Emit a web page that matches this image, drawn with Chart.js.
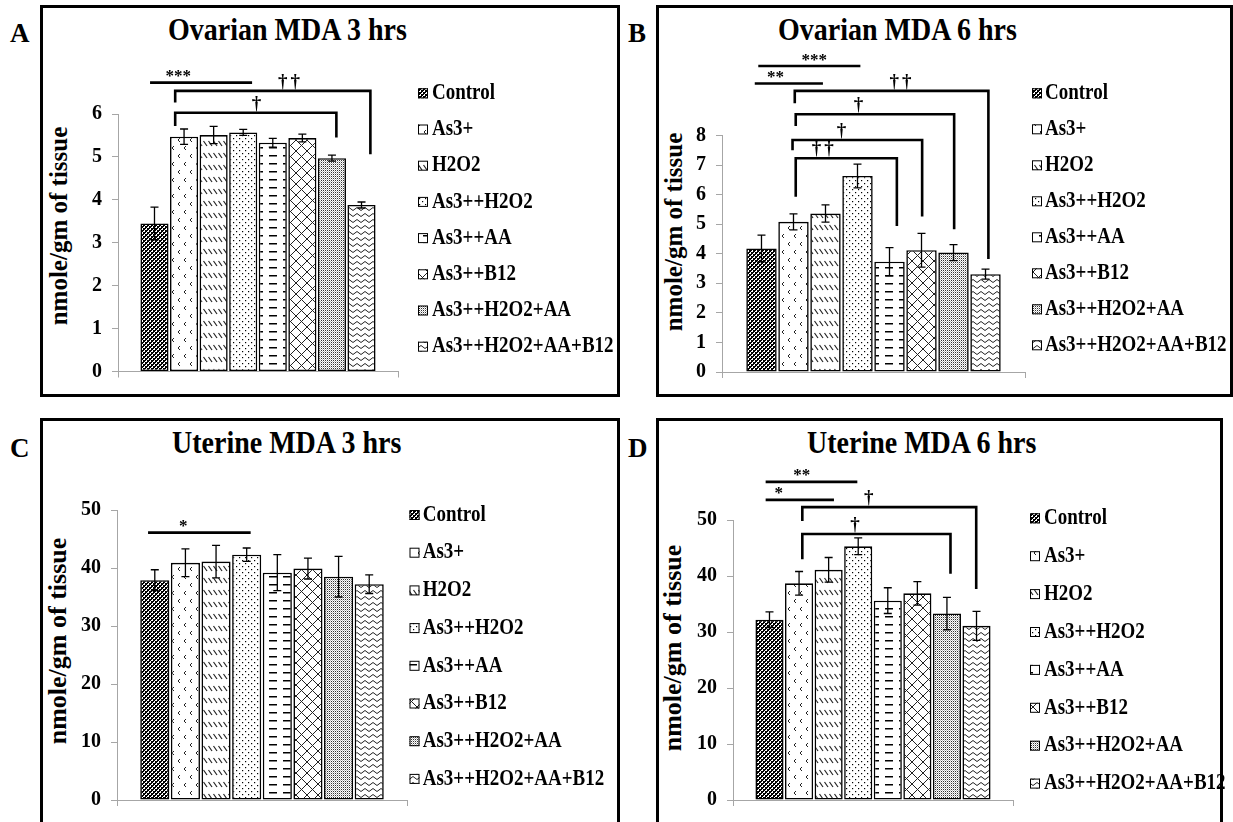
<!DOCTYPE html>
<html>
<head>
<meta charset="utf-8">
<script src="https://cdn.jsdelivr.net/npm/chart.js@4.4.1/dist/chart.umd.min.js"></script>
<style>
    body { margin: 0; background: #fff; width: 1233px; height: 822px; overflow: hidden; position: relative;
           font-family: 'Liberation Serif', 'Times New Roman', serif; color: #000; }
    .box { position: absolute; border: 3px solid #000; box-sizing: border-box; }
    .wrap { position: absolute; }
    .letter { position: absolute; font-weight: bold; font-size: 27px; line-height: 1; }
    .title { position: absolute; font-weight: bold; font-size: 28px; line-height: 1; white-space: nowrap;
             transform-origin: 0 23px; transform: scaleY(1.12); }
    .ytitle { position: absolute; font-weight: bold; font-size: 25px; line-height: 1; white-space: nowrap;
              transform: translate(-50%, -50%) rotate(-90deg); }
</style>
</head>
<body>
<div class="box" style="left:40px;top:5px;width:580px;height:392px"></div>
<div class="box" style="left:656px;top:5px;width:577px;height:392px"></div>
<div class="box" style="left:40px;top:418px;width:580px;height:420px"></div>
<div class="box" style="left:656px;top:418px;width:567px;height:420px"></div>

<div class="letter" style="left:10px;top:20px">A</div>
<div class="letter" style="left:628px;top:20px">B</div>
<div class="letter" style="left:10px;top:435px">C</div>
<div class="letter" style="left:628px;top:435px">D</div>

<div class="title" style="left:168px;top:17px">Ovarian MDA 3 hrs</div>
<div class="title" style="left:778px;top:17px">Ovarian MDA 6 hrs</div>
<div class="title" style="left:172px;top:430px">Uterine MDA 3 hrs</div>
<div class="title" style="left:807px;top:430px">Uterine MDA 6 hrs</div>

<div class="ytitle" style="left:58px;top:226px">nmole/gm of tissue</div>
<div class="ytitle" style="left:673px;top:232px">nmole/gm of tissue</div>
<div class="ytitle" style="left:58px;top:641px;font-size:26px">nmole/gm of tissue</div>
<div class="ytitle" style="left:673px;top:648px;font-size:26px">nmole/gm of tissue</div>

<div class="wrap" style="left:43px;top:8px;width:574px;height:386px"><canvas id="chartA"></canvas></div>
<div class="wrap" style="left:659px;top:8px;width:571px;height:386px"><canvas id="chartB"></canvas></div>
<div class="wrap" style="left:43px;top:421px;width:574px;height:401px"><canvas id="chartC"></canvas></div>
<div class="wrap" style="left:659px;top:421px;width:572px;height:401px"><canvas id="chartD"></canvas></div>

<script>
const groups = ['Control', 'As3+', 'H2O2', 'As3++H2O2', 'As3++AA', 'As3++B12', 'As3++H2O2+AA', 'As3++H2O2+AA+B12'];

const ovarian3hMean = [3.45, 5.47, 5.51, 5.57, 5.33, 5.44, 4.97, 3.88];
const ovarian3hErr = [0.38, 0.18, 0.2, 0.07, 0.1, 0.09, 0.07, 0.07];
const ovarian6hMean = [4.18, 5.08, 5.36, 6.63, 3.73, 4.12, 4.04, 3.31];
const ovarian6hErr = [0.45, 0.27, 0.29, 0.4, 0.48, 0.57, 0.27, 0.17];
const uterine3hMean = [37.9, 40.9, 41.1, 42.3, 39.2, 39.9, 38.5, 37.2];
const uterine3hErr = [1.8, 2.4, 2.8, 1.15, 3.1, 1.8, 3.5, 1.6];
const uterine6hMean = [32.2, 38.7, 41.1, 45.3, 35.6, 36.9, 33.3, 31.1];
const uterine6hErr = [1.4, 2.1, 2.2, 1.5, 2.3, 2.1, 2.9, 2.6];

const ovarian3hTicks = [0, 1, 2, 3, 4, 5, 6];
const ovarian6hTicks = [0, 1, 2, 3, 4, 5, 6, 7, 8];
const uterineTicks = [0, 10, 20, 30, 40, 50];

// significance marks: from/to/lx are bar indices (fractional), y/drop values in data units
const ovarian3hMarks = [
    { label: '***', from: -0.15, to: 3.3, y: 6.73, lx: 0.8 },
    { label: '††', from: 0.7, to: 7.3, y: 6.54, dropL: 6.27, dropR: 5.06, lx: 4.6 },
    { label: '†', from: 0.7, to: 6.15, y: 6.03, dropL: 5.72, dropR: 5.45, lx: 3.5 }
];
const ovarian6hMarks = [
    { label: '***', from: -0.1, to: 3.09, y: 10.35, lx: 1.65 },
    { label: '**', from: -0.21, to: 1.92, y: 9.76, lx: 0.44 },
    { label: '††', from: 1.04, to: 7.09, y: 9.51, dropL: 9.09, dropR: 3.82, lx: 4.39 },
    { label: '†', from: 1.07, to: 6.02, y: 8.72, dropL: 8.32, dropR: 4.83, lx: 3.08 },
    { label: '†', from: 0.97, to: 5.02, y: 7.85, dropL: 7.5, dropR: 5.26, lx: 2.55 },
    { label: '††', from: 1.07, to: 4.23, y: 7.23, dropL: 5.93, dropR: 4.94, lx: 1.96 }
];
const uterine3hMarks = [
    { label: '*', from: -0.22, to: 3.13, y: 46.1, lx: 0.93 }
];
const uterine6hMarks = [
    { label: '**', from: -0.13, to: 2.97, y: 56.8, lx: 1.09 },
    { label: '*', from: -0.13, to: 2.18, y: 53.6, lx: 0.31 },
    { label: '†', from: 1.11, to: 6.99, y: 52.3, dropL: 49.8, dropR: 37.7, lx: 3.41 },
    { label: '†', from: 1.11, to: 6.12, y: 47.5, dropL: 43.0, dropR: 40.4, lx: 2.94 }
];

const serif = "'Liberation Serif', 'Times New Roman', serif";

// fill patterns, black & white like the original
function makePattern(kind) {
    const c = document.createElement('canvas');
    const sizes = { checker: [4, 4], chevron: [12, 16], diag: [5, 12], dots: [6, 6], dash: [14, 8], cross: [11, 11], fine: [2, 2], wave: [8, 6] };
    const [w, h] = sizes[kind];
    c.width = w; c.height = h;
    const g = c.getContext('2d');
    g.fillStyle = '#fff';
    g.fillRect(0, 0, w, h);
    g.fillStyle = '#000';
    g.strokeStyle = '#222';
    g.lineWidth = 1;
    if (kind === 'checker') {
        g.fillRect(0, 0, 2, 2);
        g.fillRect(2, 2, 2, 2);
        g.fillRect(2, 0, 1, 1);
        g.fillRect(0, 2, 1, 1);
    } else if (kind === 'chevron') {
        g.beginPath();
        g.moveTo(5, 2); g.lineTo(3, 4); g.lineTo(5, 6);
        g.moveTo(11, 10); g.lineTo(9, 12); g.lineTo(11, 14);
        g.stroke();
    } else if (kind === 'diag') {
        g.lineWidth = 1.2;
        g.beginPath(); g.moveTo(0.5, 1); g.lineTo(4, 6); g.stroke();
    } else if (kind === 'dots') {
        g.fillRect(1, 1, 1.2, 1.2);
        g.fillRect(4, 4, 1.2, 1.2);
    } else if (kind === 'dash') {
        g.fillRect(2, 3, 8, 1.5);
    } else if (kind === 'cross') {
        g.beginPath();
        g.moveTo(0, 0); g.lineTo(11, 11);
        g.moveTo(11, 0); g.lineTo(0, 11);
        g.stroke();
    } else if (kind === 'fine') {
        g.fillStyle = '#333';
        g.fillRect(0, 0, 1, 1);
        g.fillStyle = '#bbb';
        g.fillRect(1, 1, 1, 1);
    } else if (kind === 'wave') {
        g.beginPath();
        g.moveTo(0, 3);
        g.quadraticCurveTo(2, 0, 4, 3);
        g.quadraticCurveTo(6, 6, 8, 3);
        g.stroke();
    }
    return g.createPattern(c, 'repeat');
}

const patterns = ['checker', 'chevron', 'diag', 'dots', 'dash', 'cross', 'fine', 'wave'].map(makePattern);

// error bars, significance brackets and the legend
const panelExtras = {
    id: 'panelExtras',
    afterDatasetsDraw(chart, args, opts) {
        const ctx = chart.ctx;
        const yScale = chart.scales.y;
        const bars = chart.data.datasets.map((ds, i) => chart.getDatasetMeta(i).data[0]);
        const x0 = bars[0].x;
        const step = bars[1].x - bars[0].x;
        const xAt = f => x0 + f * step;

        ctx.save();
        ctx.strokeStyle = '#000';
        ctx.lineWidth = 1.3;
        chart.data.datasets.forEach((ds, i) => {
            const v = ds.data[0], e = ds.err;
            const x = bars[i].x;
            const yt = yScale.getPixelForValue(v + e);
            const yb = yScale.getPixelForValue(v - e);
            ctx.beginPath();
            ctx.moveTo(x, yt); ctx.lineTo(x, yb);
            ctx.moveTo(x - 4, yt); ctx.lineTo(x + 4, yt);
            ctx.moveTo(x - 4, yb); ctx.lineTo(x + 4, yb);
            ctx.stroke();
        });

        ctx.lineWidth = 2.6;
        ctx.lineJoin = 'miter';
        ctx.fillStyle = '#000';
        ctx.textAlign = 'center';
        (opts.marks || []).forEach(m => {
            const xl = xAt(m.from), xr = xAt(m.to);
            const y = yScale.getPixelForValue(m.y);
            ctx.beginPath();
            if (m.dropL !== undefined) {
                ctx.moveTo(xl, yScale.getPixelForValue(m.dropL));
                ctx.lineTo(xl, y);
                ctx.lineTo(xr, y);
                ctx.lineTo(xr, yScale.getPixelForValue(m.dropR));
            } else {
                ctx.moveTo(xl, y);
                ctx.lineTo(xr, y);
            }
            ctx.stroke();
            const isStar = m.label.indexOf('*') >= 0;
            ctx.font = 'bold ' + (isStar ? 17 : 19) + 'px ' + serif;
            ctx.letterSpacing = isStar ? '0px' : '3px';
            const mt = ctx.measureText(m.label);
            const cy = y - 9;
            ctx.fillText(m.label, xAt(m.lx), cy + (mt.actualBoundingBoxAscent - mt.actualBoundingBoxDescent) / 2);
        });
        ctx.letterSpacing = '0px';

        const lg = opts.legend;
        ctx.textAlign = 'left';
        ctx.textBaseline = 'middle';
        ctx.font = 'bold 19px ' + serif;
        ctx.lineWidth = 1;
        chart.data.datasets.forEach((ds, i) => {
            const y = lg.y + i * lg.step;
            ctx.fillStyle = ds.backgroundColor;
            ctx.fillRect(lg.x, y - 5, 10, 10);
            ctx.strokeStyle = '#000';
            ctx.strokeRect(lg.x + 0.5, y - 4.5, 9, 9);
            ctx.save();
            ctx.translate(lg.textX, y);
            ctx.scale(1, 1.18);
            ctx.fillStyle = '#000';
            ctx.fillText(ds.label, 0, 0);
            ctx.restore();
        });
        ctx.restore();
    }
};

function makePanel(id, means, errs, ticks, marks, padding, legend) {
    const el = document.getElementById(id);
    return new Chart(el, {
        type: 'bar',
        data: {
            labels: [''],
            datasets: groups.map((g, i) => ({
                label: g,
                data: [means[i]],
                err: errs[i],
                backgroundColor: patterns[i],
                borderColor: '#000',
                borderWidth: 1.6,
                borderSkipped: false,
                categoryPercentage: 0.845,
                barPercentage: 0.95
            }))
        },
        options: {
            responsive: true,
            maintainAspectRatio: false,
            animation: false,
            events: [],
            layout: { padding: padding },
            plugins: {
                legend: { display: false },
                tooltip: { enabled: false },
                panelExtras: { marks: marks, legend: legend }
            },
            scales: {
                x: {
                    grid: { drawOnChartArea: false, tickLength: 6, color: '#a6a6a6' },
                    border: { color: '#a6a6a6' },
                    ticks: { display: false },
                    afterFit: s => { s.height = 8; }
                },
                y: {
                    min: ticks[0],
                    max: ticks[ticks.length - 1],
                    afterBuildTicks: a => { a.ticks = ticks.map(v => ({ value: v })); },
                    afterFit: s => { s.width = 40; },
                    grid: { drawOnChartArea: false, tickLength: 6, color: '#a6a6a6' },
                    border: { color: '#a6a6a6' },
                    ticks: { color: '#000', padding: 10, font: { family: serif, size: 20, weight: 'bold' } }
                }
            }
        },
        plugins: [panelExtras]
    });
}

makePanel('chartA', ovarian3hMean, ovarian3hErr, ovarian3hTicks, ovarian3hMarks,
    { left: 35, top: 106, right: 219, bottom: 14.5 }, { x: 375, textX: 389, y: 85.3, step: 36.2 });
makePanel('chartB', ovarian6hMean, ovarian6hErr, ovarian6hTicks, ovarian6hMarks,
    { left: 23, top: 127.5, right: 205, bottom: 13.7 }, { x: 373, textX: 386, y: 85.3, step: 36.0 });
makePanel('chartC', uterine3hMean, uterine3hErr, uterineTicks, uterine3hMarks,
    { left: 34, top: 89, right: 210, bottom: 12.3 }, { x: 366.5, textX: 379.7, y: 94, step: 37.7 });
makePanel('chartD', uterine6hMean, uterine6hErr, uterineTicks, uterine6hMarks,
    { left: 34, top: 99, right: 218, bottom: 12.5 }, { x: 371, textX: 385, y: 97.3, step: 37.9 });
</script>
</body>
</html>
